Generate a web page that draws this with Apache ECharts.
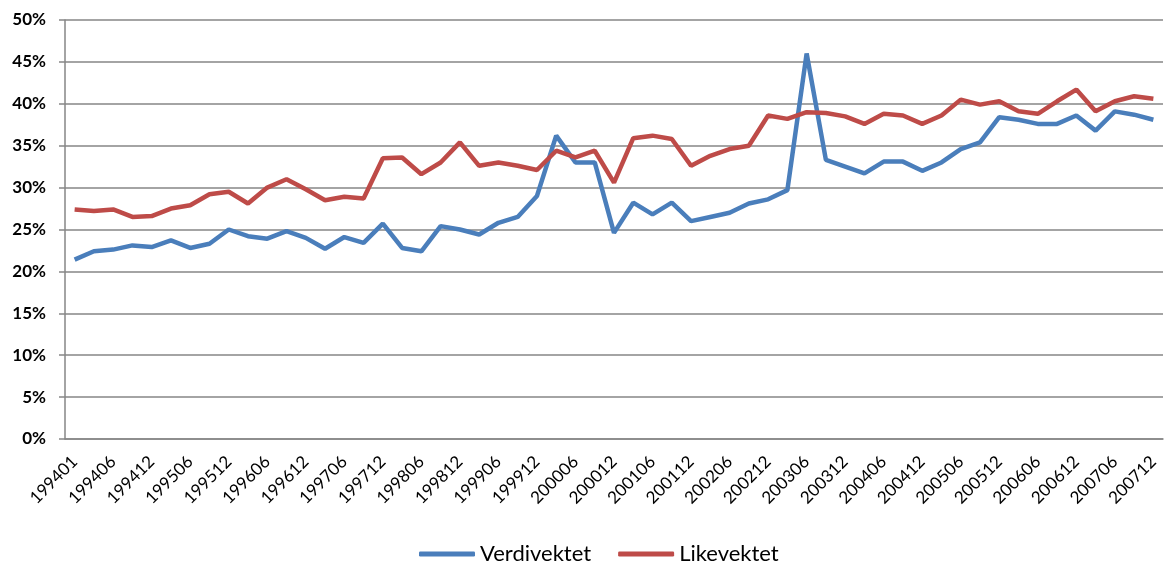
<!DOCTYPE html>
<html>
<head>
<meta charset="utf-8">
<script src="https://cdn.jsdelivr.net/npm/echarts@6/dist/echarts.min.js"></script>
<style>
  html, body { margin: 0; padding: 0; background: #fff; }
  #main { width: 1165px; height: 567px; }
</style>
</head>
<body>
<div id="main"></div>
<script>
// kvartalsvise datoer, første punkt er januar 1994
var maaneder = [
    '199401', '199403', '199406', '199409', '199412',
    '199503', '199506', '199509', '199512',
    '199603', '199606', '199609', '199612',
    '199703', '199706', '199709', '199712',
    '199803', '199806', '199809', '199812',
    '199903', '199906', '199909', '199912',
    '200003', '200006', '200009', '200012',
    '200103', '200106', '200109', '200112',
    '200203', '200206', '200209', '200212',
    '200303', '200306', '200309', '200312',
    '200403', '200406', '200409', '200412',
    '200503', '200506', '200509', '200512',
    '200603', '200606', '200609', '200612',
    '200703', '200706', '200709', '200712'
];

// verdier i prosent
var verdivektet = [
    21.4, 22.4, 22.6, 23.1, 22.9, 23.7, 22.8, 23.3, 25.0,
    24.2, 23.9, 24.8, 24.0, 22.7, 24.1, 23.4, 25.7,
    22.8, 22.4, 25.4, 25.0, 24.4, 25.8, 26.5, 29.0,
    36.2, 33.0, 33.0, 24.6, 28.2, 26.8, 28.2, 26.0,
    26.5, 27.0, 28.1, 28.6, 29.7, 46.0, 33.3, 32.5,
    31.7, 33.1, 33.1, 32.0, 33.0, 34.6, 35.4, 38.4,
    38.1, 37.6, 37.6, 38.6, 36.8, 39.1, 38.7, 38.1
];
var likevektet = [
    27.4, 27.2, 27.4, 26.5, 26.6, 27.5, 27.9, 29.2, 29.5,
    28.1, 30.0, 31.0, 29.8, 28.5, 28.9, 28.7, 33.5,
    33.6, 31.6, 33.0, 35.4, 32.6, 33.0, 32.6, 32.1,
    34.4, 33.6, 34.4, 30.6, 35.9, 36.2, 35.8, 32.6,
    33.8, 34.6, 35.0, 38.6, 38.2, 39.0, 38.9, 38.5,
    37.6, 38.8, 38.6, 37.6, 38.6, 40.5, 39.9, 40.3,
    39.1, 38.8, 40.3, 41.7, 39.1, 40.3, 40.9, 40.6
];

var fontNavn = 'Lato, "Open Sans", sans-serif';
var graa = '#868686';

function showChart() {
    var myChart = echarts.init(document.getElementById('main'));
    myChart.setOption({
        animation: false,
        textStyle: { fontFamily: fontNavn },
        grid: {
            left: 65,
            right: 2,
            top: 20,
            bottom: 128
        },
        legend: {
            bottom: -3,
            left: 414,
            itemWidth: 56,
            itemHeight: 5,
            itemGap: 27,
            icon: 'roundRect',
            textStyle: { fontSize: 22, color: '#000', fontFamily: fontNavn },
            data: ['Verdivektet', 'Likevektet']
        },
        xAxis: {
            type: 'category',
            boundaryGap: true,
            data: maaneder,
            axisLine: { lineStyle: { color: graa, width: 1.5 } },
            axisTick: { interval: 0, length: 6, lineStyle: { color: graa, width: 1.5 } },
            axisLabel: {
                interval: 1,
                rotate: 45,
                margin: 20,
                fontSize: 17,
                color: '#000',
                fontFamily: fontNavn
            }
        },
        yAxis: {
            type: 'value',
            min: 0,
            max: 50,
            interval: 5,
            axisLine: { show: true, lineStyle: { color: graa, width: 1.5 } },
            axisTick: { show: true, length: 6, lineStyle: { color: graa, width: 1.5 } },
            splitLine: { lineStyle: { color: graa, width: 1.5 } },
            axisLabel: {
                formatter: '{value}%',
                fontSize: 17,
                fontWeight: 'bold',
                color: '#000',
                margin: 19,
                fontFamily: fontNavn
            }
        },
        series: [
            {
                name: 'Verdivektet',
                type: 'line',
                data: verdivektet,
                symbol: 'none',
                itemStyle: { color: '#4A7EBB' },
                lineStyle: { width: 4.5, color: '#4A7EBB' }
            },
            {
                name: 'Likevektet',
                type: 'line',
                data: likevektet,
                symbol: 'none',
                itemStyle: { color: '#BE4B48' },
                lineStyle: { width: 4.5, color: '#BE4B48' }
            }
        ]
    });
}

window.onload = function () {
    showChart();
}
</script>
</body>
</html>
